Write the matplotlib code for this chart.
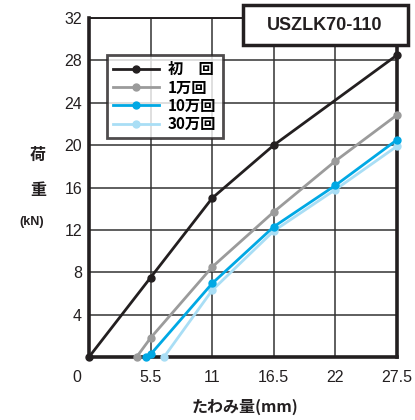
import matplotlib
matplotlib.use("Agg")
import matplotlib.pyplot as plt
from matplotlib.patches import Rectangle

plt.rcParams['font.family'] = ['Liberation Sans', 'Noto Sans CJK JP', 'DejaVu Sans']

series_names = ["初　回", "1万回", "10万回", "30万回"]
x_first = [0, 5.5, 11, 16.5, 27.5]
y_first = [0, 7.5, 15.0, 20.0, 28.5]
x_10k = [4.25, 5.5, 11, 16.5, 22, 27.5]
y_10k = [0, 1.8, 8.5, 13.7, 18.5, 22.85]
x_100k = [5.1, 5.5, 11, 16.5, 22, 27.5]
y_100k = [0, 0.25, 6.95, 12.3, 16.2, 20.5]
x_300k = [6.7, 11, 16.5, 22, 27.5]
y_300k = [0, 6.3, 11.9, 15.8, 19.9]
colors = ["#231f20", "#9b9b9b", "#00a8e4", "#a9def5"]

x_ticks = [5.5, 11, 16.5, 22, 27.5]
x_tick_labels = ["5.5", "11", "16.5", "22", "27.5"]
y_ticks = [4, 8, 12, 16, 20, 24, 28, 32]
y_tick_labels = ["4", "8", "12", "16", "20", "24", "28", "32"]

fig = plt.figure(figsize=(4.15, 4.2), dpi=100)
ax = fig.add_axes([89/415, 1-357/420, 308/415, 339/420])
ax.set_xlim(0, 27.5)
ax.set_ylim(0, 32)

for xv in x_ticks:
    ax.axvline(xv, color="#333333", lw=1.1, zorder=1)
for yv in y_ticks:
    ax.axhline(yv, color="#333333", lw=1.1, zorder=1)

data = [(x_first, y_first), (x_10k, y_10k), (x_100k, y_100k), (x_300k, y_300k)]
order = [3, 2, 1, 0]
handles = {}
for i in order:
    xs, ys = data[i]
    ln, = ax.plot(xs, ys, color=colors[i], lw=2.0, marker="o", ms=5,
                  clip_on=False, zorder=3 + (3 - i), label=series_names[i])
    handles[i] = ln

for side, lw in [("left", 2.6), ("bottom", 2.6), ("right", 2.6), ("top", 1.4)]:
    ax.spines[side].set_linewidth(lw)
    ax.spines[side].set_color("#231f20")

ax.set_xticks(x_ticks)
ax.set_xticklabels(x_tick_labels)
ax.set_yticks(y_ticks)
ax.set_yticklabels(y_tick_labels)
ax.tick_params(length=0, labelsize=11.5, colors="#231f20", pad=9)
ax.tick_params(axis="y", pad=5)
fig.text(77/415, 1-378/420, "0", ha="center", va="center", fontsize=11.5, color="#231f20")

leg = ax.legend([handles[i] for i in range(4)], series_names,
                loc="upper left", bbox_to_anchor=(18/308, 1-37/339),
                frameon=True, fancybox=False, handlelength=3.0,
                borderpad=0.4, labelspacing=0.15, handletextpad=0.6,
                prop={"family": ["Noto Sans CJK JP"], "weight": "bold", "size": 11},
                borderaxespad=0)
leg.get_frame().set_edgecolor("#231f20")
leg.get_frame().set_linewidth(2.0)
leg.set_zorder(10)

# title box
fig.patches.append(Rectangle((243/415, 1-45/420), 165/415, 40/420,
                             transform=fig.transFigure, facecolor="white",
                             edgecolor="#231f20", lw=2.5, zorder=20))
fig.text(325/415, 1-25/420, "USZLK70-110", ha="center", va="center",
         fontsize=13, fontweight="bold", color="#231f20", zorder=21)

jp = ["Noto Sans CJK JP"]
fig.text(38/415, 1-155/420, "荷", ha="center", va="center", fontsize=11.5, fontweight="bold", family=jp, color="#231f20")
fig.text(38/415, 1-190/420, "重", ha="center", va="center", fontsize=11.5, fontweight="bold", family=jp, color="#231f20")
fig.text(32/415, 1-222/420, "(kN)", ha="center", va="center", fontsize=9, fontweight="bold", color="#231f20")
fig.text(245/415, 1-407/420, "たわみ量(mm)", ha="center", va="center", fontsize=11.5, fontweight="bold",
         family=["Noto Sans CJK JP"], color="#231f20")

fig.savefig("out.png", dpi=100)
